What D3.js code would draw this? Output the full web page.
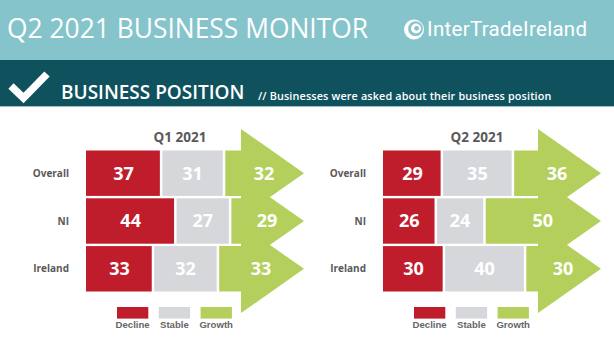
<!DOCTYPE html>
<html>
<head>
<meta charset="utf-8">
<script src="https://cdn.jsdelivr.net/npm/d3@7"></script>
<style>
  html, body { margin: 0; padding: 0; background: #fff; }
  svg { display: block; font-family: "Open Sans", sans-serif; }
</style>
</head>
<body>
<svg id="chart" width="614" height="345"></svg>
<script>
// values (% of businesses)
const categories = ['Overall', 'NI', 'Ireland'];
const seriesNames = ['Decline', 'Stable', 'Growth'];
const seriesColors = ['#bf1c2c', '#d5d7db', '#b5cf5c'];

const q1Decline = [37, 44, 33];
const q1Stable = [31, 27, 32];
const q1Growth = [32, 29, 33];

const q2Decline = [29, 26, 30];
const q2Stable = [35, 24, 40];
const q2Growth = [36, 50, 30];

const panels = [
    { title: 'Q1 2021', x0: 86, series: [q1Decline, q1Stable, q1Growth] },
    { title: 'Q2 2021', x0: 383, series: [q2Decline, q2Stable, q2Growth] }
];

const svg = d3.select('#chart');

// ---- header bands ----
svg.append('rect').attr('x', 0).attr('y', 0).attr('width', 614).attr('height', 60).attr('fill', '#86c4cc');
svg.append('rect').attr('x', 0).attr('y', 60).attr('width', 614).attr('height', 46).attr('fill', '#0f525e');
svg.append('rect').attr('x', 0).attr('y', 106).attr('width', 614).attr('height', 1).attr('fill', '#9cc3c8');

svg.append('text')
    .attr('x', 7).attr('y', 37.5)
    .attr('fill', '#fff')
    .style('font-size', '26.4px')
    .style('font-weight', 500)
    .text('Q2 2021 BUSINESS MONITOR');

// logo
const logo = svg.append('g').attr('transform', 'translate(414,29.5)');
logo.append('circle').attr('r', 10).attr('fill', '#fff');
logo.append('circle').attr('cx', 1.5).attr('cy', -0.8).attr('r', 7.4).attr('fill', '#86c4cc');
logo.append('circle').attr('cx', 2).attr('cy', -1).attr('r', 5).attr('fill', '#fff');
logo.append('circle').attr('cx', 2.6).attr('cy', -1.2).attr('r', 2.4).attr('fill', '#86c4cc');
svg.append('text')
    .attr('x', 427).attr('y', 36)
    .attr('fill', '#fff')
    .style('font-family', 'Roboto, sans-serif')
    .style('font-size', '20.5px')
    .style('letter-spacing', '0.3px')
    .text('InterTradeIreland');

// tick mark + section title
svg.append('polyline')
    .attr('points', '11,86 23.5,98 47,74')
    .attr('fill', 'none')
    .attr('stroke', '#fff')
    .attr('stroke-width', 7.5);

svg.append('text')
    .attr('x', 61).attr('y', 99)
    .attr('fill', '#fff')
    .style('font-size', '19px')
    .style('font-weight', 600)
    .text('BUSINESS POSITION');

svg.append('text')
    .attr('x', 258).attr('y', 100)
    .attr('fill', '#fff')
    .style('font-size', '10.8px')
    .style('font-weight', 600)
    .style('letter-spacing', '0.15px')
    .text('// Businesses were asked about their business position');

// ---- the two panels ----
const gap = 2.5;

panels.forEach(p => {
    const x = d3.scaleLinear().domain([0, 100]).range([p.x0, p.x0 + 203]);
    const y = d3.scaleBand().domain(categories).range([150.5, 291.5]).paddingInner(0.05);
    const headBase = p.x0 + 155;
    const tip = p.x0 + 218;
    const headExt = 21.5;

    const g = svg.append('g');

    g.append('text')
        .attr('x', p.x0 + 94).attr('y', 141.5)
        .attr('text-anchor', 'middle')
        .attr('fill', '#595959')
        .style('font-size', '13.5px')
        .style('font-weight', 700)
        .text(p.title);

    // growth arrows first so the other segments sit next to them
    categories.forEach((c, i) => {
        const start = x(p.series[0][i] + p.series[1][i]) + gap / 2;
        const top = y(c), bot = y(c) + y.bandwidth(), mid = top + y.bandwidth() / 2;
        const path = d3.path();
        path.moveTo(start, top);
        path.lineTo(headBase, top);
        path.lineTo(headBase, top - headExt);
        path.lineTo(tip, mid);
        path.lineTo(headBase, bot + headExt);
        path.lineTo(headBase, bot);
        path.lineTo(start, bot);
        path.closePath();
        g.append('path').attr('d', path.toString()).attr('fill', seriesColors[2]);
    });

    // decline + stable blocks
    categories.forEach((c, i) => {
        let cum = 0;
        [0, 1].forEach(s => {
            const v = p.series[s][i];
            g.append('rect')
                .attr('x', x(cum) + (cum > 0 ? gap / 2 : 0))
                .attr('y', y(c))
                .attr('width', x(cum + v) - x(cum) - (cum > 0 ? gap : gap / 2))
                .attr('height', y.bandwidth())
                .attr('fill', seriesColors[s]);
            cum += v;
        });
    });

    // row labels
    g.selectAll('.rowlab')
        .data(categories)
        .join('text')
        .attr('x', p.x0 - 17)
        .attr('y', d => y(d) + y.bandwidth() / 2 + 3.5)
        .attr('text-anchor', 'end')
        .attr('fill', '#595959')
        .style('font-size', '10px')
        .style('font-weight', 700)
        .text(d => d);

    // values
    categories.forEach((c, i) => {
        const d = p.series[0][i], s = p.series[1][i], gr = p.series[2][i];
        const mid = y(c) + y.bandwidth() / 2 + 6.3;
        const xs = [
            (x(0) + x(d)) / 2,
            (x(d) + x(d + s)) / 2,
            (x(d + s) + tip) / 2
        ];
        [d, s, gr].forEach((v, k) => {
            g.append('text')
                .attr('x', xs[k]).attr('y', mid)
                .attr('text-anchor', 'middle')
                .attr('fill', '#fff')
                .style('font-size', '18px')
                .style('font-weight', 700)
                .text(v);
        });
    });

    // legend
    const lg = g.append('g').attr('transform', `translate(${p.x0 + 31},307)`);
    seriesNames.forEach((n, k) => {
        lg.append('rect')
            .attr('x', k * 41.8).attr('y', 0)
            .attr('width', 31.3).attr('height', 11.6)
            .attr('fill', seriesColors[k]);
        lg.append('text')
            .attr('x', k * 41.8 + 15.6).attr('y', 21)
            .attr('text-anchor', 'middle')
            .attr('fill', '#666')
            .style('font-family', '"Liberation Sans", Arial, sans-serif')
            .style('font-size', '9.6px')
            .style('font-weight', 700)
            .text(n);
    });
});
</script>
</body>
</html>
